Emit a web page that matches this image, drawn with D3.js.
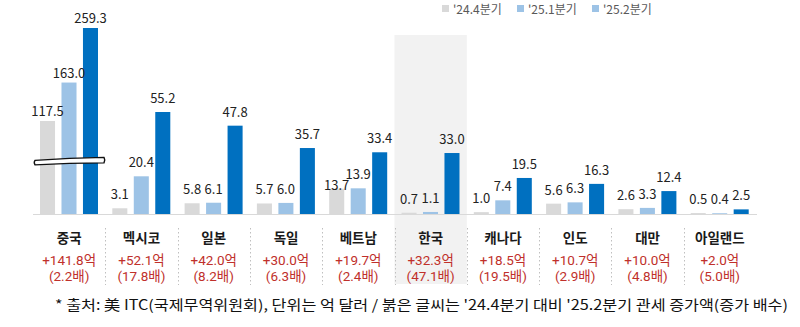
<!DOCTYPE html>
<html><head><meta charset="utf-8">
<script src="https://cdn.jsdelivr.net/npm/d3@7"></script>
<style>html,body{margin:0;padding:0;background:#fff;}svg{display:block;}</style>
</head><body>
<svg id="chart" width="800" height="327"></svg>
<script>
const categories = ['중국','멕시코','일본','독일','베트남','한국','캐나다','인도','대만','아일랜드'];
const seriesNames = ["'24.4분기", "'25.1분기", "'25.2분기"];
const q244 = [117.5, 3.1, 5.8, 5.7, 13.7, 0.7, 1.0, 5.6, 2.6, 0.5];
const q251 = [163.0, 20.4, 6.1, 6.0, 13.9, 1.1, 7.4, 6.3, 3.3, 0.4];
const q252 = [259.3, 55.2, 47.8, 35.7, 33.4, 33.0, 19.5, 16.3, 12.4, 2.5];
const increase = ['+141.8억','+52.1억','+42.0억','+30.0억','+19.7억','+32.3억','+18.5억','+10.7억','+10.0억','+2.0억'];
const multiple = ['(2.2배)','(17.8배)','(8.2배)','(6.3배)','(2.4배)','(47.1배)','(19.5배)','(2.9배)','(4.8배)','(5.0배)'];
const highlight = '한국';
const brokenCategory = '중국';
const footnote = "* 출처: 美 ITC(국제무역위원회), 단위는 억 달러 / 붉은 글씨는 '24.4분기 대비 '25.2분기 관세 증가액(증가 배수)";

const colors = ['#d9d9d9', '#9dc3e6', '#0070c0'];
const legendColors = ['#d9d9d9', '#9dc3e6', '#9dc3e6'];
const FONT = "'Noto Sans CJK KR', 'Noto Sans', sans-serif";
const RED_FONT = "Roboto, 'Noto Sans CJK KR', sans-serif";

const svg = d3.select('#chart');
const baseY = 214;

const x0 = d3.scaleBand().domain(categories).range([33, 756]).paddingInner(0).paddingOuter(0);
const x1 = d3.scaleBand().domain(seriesNames).range([7, 65]).paddingInner(0.3).paddingOuter(0);
const y = d3.scaleLinear().domain([0, 55.2]).range([baseY, 112]);
const chinaVals = [q244[0], q251[0], q252[0]];
const yBreak = d3.scaleLog().domain(d3.extent(chinaVals)).range([121, 28]);

const rows = categories.map((c, i) => ({cat: c, vals: [q244[i], q251[i], q252[i]], inc: increase[i], mul: multiple[i]}));

// highlight
svg.append('rect')
  .attr('x', x0(highlight)).attr('y', 35)
  .attr('width', x0.bandwidth()).attr('height', 249)
  .attr('fill', '#f2f2f2');

// axis baseline
svg.append('line').attr('x1', 33).attr('x2', 757).attr('y1', baseY + 0.5).attr('y2', baseY + 0.5)
  .attr('stroke', '#d9d9d9').attr('stroke-width', 1);

// separators
categories.slice(1).forEach(c => {
  const xx = Math.round(x0(c)) + 0.5;
  svg.append('line').attr('x1', xx).attr('x2', xx).attr('y1', 228).attr('y2', 285)
    .attr('stroke', '#bfbfbf').attr('stroke-width', 1).attr('stroke-dasharray', '1.5,2.5');
});

// bars
const g = svg.append('g');
const labelG = svg.append('g');
rows.forEach(r => {
  const gx = x0(r.cat);
  const labels = [];
  r.vals.forEach((v, j) => {
    const top = r.cat === brokenCategory ? yBreak(v) : y(v);
    const bx = gx + x1(seriesNames[j]);
    g.append('rect').attr('x', bx).attr('y', top)
      .attr('width', x1.bandwidth()).attr('height', baseY - top)
      .attr('fill', colors[j]);
    const t = labelG.append('text').attr('x', bx + x1.bandwidth() / 2)
      .attr('y', top - (r.cat === brokenCategory ? 5 : 9))
      .attr('text-anchor', 'middle')
      .attr('font-family', FONT).attr('font-size', 13).attr('fill', '#222')
      .text(v.toFixed(1));
    labels.push(t);
  });
  // simple collision: push the left label down below its right neighbour
  for (let j = labels.length - 2; j >= 0; j--) {
    const a = labels[j], b = labels[j + 1];
    const aw = a.node().getComputedTextLength(), bw = b.node().getComputedTextLength();
    const ax = +a.attr('x'), bxx = +b.attr('x');
    const ay = +a.attr('y'), by = +b.attr('y');
    const hOverlap = (ax + aw / 2) - (bxx - bw / 2) > 1;
    const vOverlap = Math.abs(ay - by) < 10;
    if (hOverlap && vOverlap) a.attr('y', by + 11);
  }
});

// break symbol on China
{
  const gx = x0(brokenCategory);
  const l = gx + 2, r = gx + 71;
  const yb = y(28.5);
  const p = `M${l},${yb - 1} Q${(l + r) / 2},${yb - 3.5} ${r},${yb - 4} Q${r + 1.5},${yb - 1.5} ${r},${yb + 1.5} Q${(l + r) / 2},${yb + 1.5} ${l},${yb + 3.5} Q${l - 1.5},${yb + 1} ${l},${yb - 1} Z`;
  svg.append('path').attr('d', p).attr('fill', '#fff').attr('stroke', '#111').attr('stroke-width', 1.4);
}

// category labels
rows.forEach(r => {
  const cx = x0(r.cat) + x0.bandwidth() / 2;
  svg.append('text').attr('x', cx).attr('y', 243).attr('text-anchor', 'middle')
    .attr('font-family', FONT).attr('font-size', 13.5).attr('font-weight', 'bold').attr('fill', '#1a1a1a')
    .text(r.cat);
  svg.append('text').attr('x', cx).attr('y', 265).attr('text-anchor', 'middle')
    .attr('font-family', RED_FONT).attr('font-size', 13.5).attr('fill', '#c0302b')
    .text(r.inc);
  svg.append('text').attr('x', cx).attr('y', 281).attr('text-anchor', 'middle')
    .attr('font-family', RED_FONT).attr('font-size', 13.5).attr('fill', '#c0302b')
    .text(r.mul);
});

// legend
const legendX = [442, 517, 592];
seriesNames.forEach((s, j) => {
  svg.append('rect').attr('x', legendX[j]).attr('y', 5).attr('width', 7).attr('height', 7).attr('fill', legendColors[j]);
  svg.append('text').attr('x', legendX[j] + 11).attr('y', 13.5)
    .attr('font-family', FONT).attr('font-size', 12).attr('fill', '#595959').text(s);
});

// footnote
svg.append('text').attr('x', 55).attr('y', 310)
  .attr('font-family', FONT).attr('font-size', 14).attr('fill', '#111')
  .attr('textLength', 733).attr('lengthAdjust', 'spacingAndGlyphs')
  .text(footnote);
</script>
</body></html>
